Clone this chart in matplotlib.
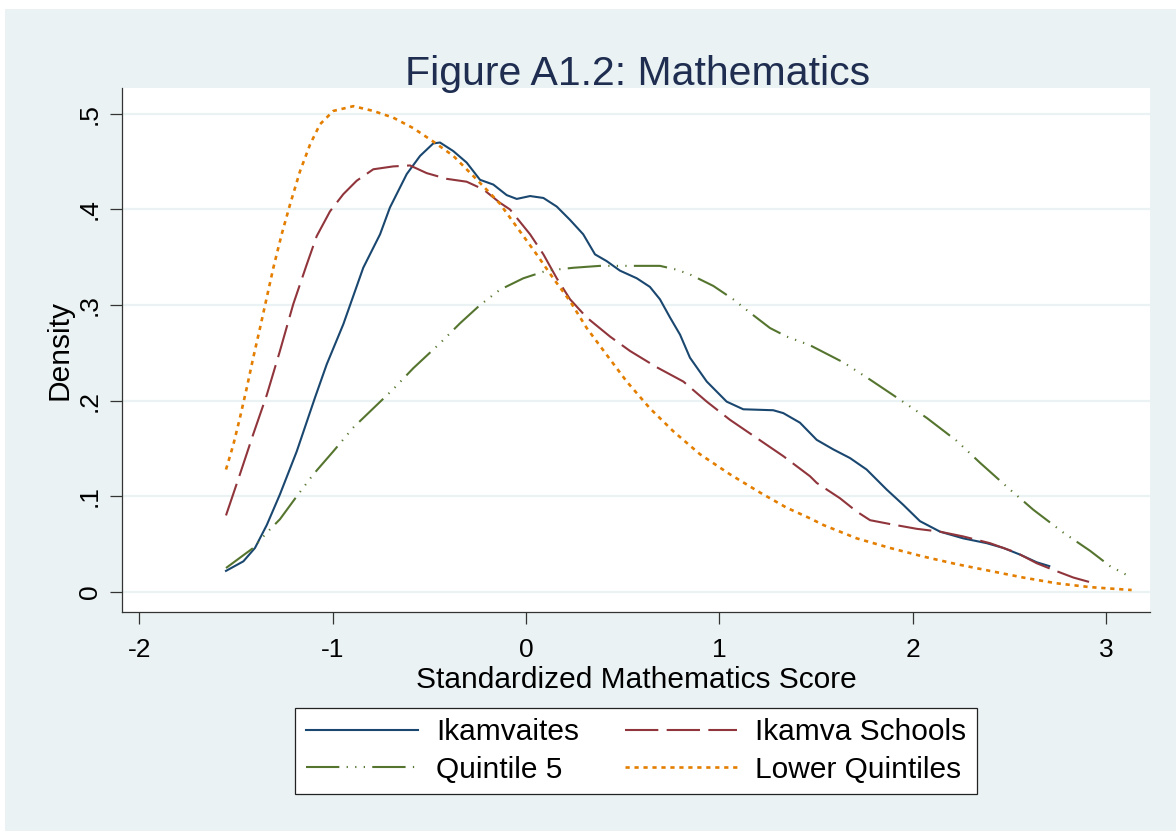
import numpy as np
import matplotlib
matplotlib.use("Agg")
import matplotlib.pyplot as plt
from matplotlib.patches import Rectangle

plt.rcParams['font.family'] = ['Liberation Sans', 'DejaVu Sans']
plt.rcParams['axes.unicode_minus'] = False

# Ikamvaites (solid navy)
ika_x = [-1.552, -1.462, -1.402, -1.341, -1.273, -1.186, -1.092, -1.031, -0.945, -0.842,
         -0.755, -0.704, -0.617, -0.548, -0.480, -0.445, -0.376, -0.307, -0.238, -0.169,
         -0.100, -0.048, 0.021, 0.090, 0.159, 0.228, 0.296, 0.357, 0.417, 0.486,
         0.573, 0.641, 0.693, 0.745, 0.797, 0.848, 0.935, 1.038, 1.124, 1.279,
         1.331, 1.417, 1.504, 1.590, 1.676, 1.762, 1.866, 1.952, 2.038, 2.142,
         2.262, 2.383, 2.469, 2.556, 2.642, 2.707]
ika_y = [0.022, 0.032, 0.046, 0.070, 0.102, 0.147, 0.203, 0.238, 0.280, 0.339,
         0.374, 0.402, 0.437, 0.456, 0.469, 0.470, 0.461, 0.449, 0.431, 0.426,
         0.415, 0.411, 0.414, 0.412, 0.403, 0.389, 0.374, 0.353, 0.346, 0.336,
         0.328, 0.319, 0.306, 0.287, 0.269, 0.245, 0.220, 0.199, 0.191, 0.190,
         0.187, 0.177, 0.159, 0.149, 0.140, 0.128, 0.107, 0.091, 0.074, 0.063,
         0.056, 0.051, 0.046, 0.039, 0.031, 0.027]

# Ikamva Schools (long dash maroon)
sch_x = [-1.552, -1.480, -1.411, -1.341, -1.273, -1.204, -1.135, -1.083, -1.014, -0.945,
         -0.876, -0.790, -0.687, -0.600, -0.514, -0.410, -0.307, -0.221, -0.135, -0.083,
         0.021, 0.090, 0.159, 0.228, 0.314, 0.435, 0.538, 0.676, 0.814, 0.935,
         1.055, 1.193, 1.331, 1.469, 1.504, 1.624, 1.711, 1.780, 1.883, 2.021,
         2.142, 2.262, 2.400, 2.538, 2.642, 2.728, 2.832, 2.939]
sch_y = [0.080, 0.123, 0.165, 0.206, 0.252, 0.301, 0.342, 0.372, 0.398, 0.416,
         0.430, 0.442, 0.445, 0.446, 0.438, 0.432, 0.429, 0.421, 0.407, 0.400,
         0.374, 0.353, 0.328, 0.306, 0.287, 0.267, 0.252, 0.235, 0.220, 0.199,
         0.180, 0.161, 0.142, 0.121, 0.114, 0.098, 0.084, 0.075, 0.071, 0.066,
         0.063, 0.058, 0.051, 0.041, 0.030, 0.023, 0.015, 0.009]

# Quintile 5 (dash-dot-dot green)
q5_x = [-1.552, -1.411, -1.341, -1.273, -1.186, -1.100, -0.997, -0.893, -0.790, -0.687,
        -0.583, -0.445, -0.341, -0.238, -0.135, -0.014, 0.107, 0.245, 0.383, 0.521,
        0.693, 0.780, 0.848, 0.969, 1.072, 1.159, 1.262, 1.349, 1.469, 1.642,
        1.780, 1.935, 2.073, 2.228, 2.349, 2.504, 2.624, 2.780, 2.918, 3.021, 3.133]
q5_y = [0.025, 0.046, 0.062, 0.076, 0.100, 0.123, 0.147, 0.172, 0.192, 0.212,
        0.234, 0.260, 0.281, 0.300, 0.316, 0.328, 0.336, 0.339, 0.341, 0.341,
        0.341, 0.337, 0.332, 0.320, 0.306, 0.292, 0.276, 0.267, 0.258, 0.240,
        0.222, 0.201, 0.182, 0.158, 0.135, 0.107, 0.086, 0.062, 0.043, 0.027, 0.015]

# Lower Quintiles (short dots orange)
low_x = [-1.552, -1.514, -1.480, -1.445, -1.411, -1.376, -1.341, -1.307, -1.264, -1.221,
         -1.169, -1.117, -1.066, -0.997, -0.893, -0.790, -0.687, -0.583, -0.480, -0.376,
         -0.273, -0.186, -0.135, -0.031, 0.055, 0.141, 0.228, 0.314, 0.417, 0.521,
         0.641, 0.762, 0.900, 1.055, 1.210, 1.349, 1.469, 1.538, 1.711, 1.883,
         2.055, 2.228, 2.400, 2.573, 2.745, 2.918, 3.133]
low_y = [0.128, 0.154, 0.182, 0.213, 0.245, 0.276, 0.308, 0.339, 0.374, 0.405,
         0.440, 0.468, 0.489, 0.503, 0.508, 0.503, 0.496, 0.485, 0.471, 0.456,
         0.435, 0.417, 0.406, 0.377, 0.353, 0.328, 0.304, 0.276, 0.248, 0.220,
         0.192, 0.168, 0.144, 0.123, 0.104, 0.088, 0.077, 0.070, 0.056, 0.046,
         0.037, 0.029, 0.022, 0.015, 0.009, 0.005, 0.002]

labels = ["Ikamvaites", "Ikamva Schools", "Quintile 5", "Lower Quintiles"]
x_ticks = [-2, -1, 0, 1, 2, 3]
y_ticks = [0, 0.1, 0.2, 0.3, 0.4, 0.5]
y_ticklabels = ["0", ".1", ".2", ".3", ".4", ".5"]

W, H = 1176, 831
bg = "#EAF2F3"
fig = plt.figure(figsize=(W / 100, H / 100), dpi=100, facecolor="white")
fig.patches.append(Rectangle((5 / W, 0), 1, 1 - 9 / H, transform=fig.transFigure,
                             facecolor=bg, edgecolor="none", zorder=-10))

ax = fig.add_axes([122 / W, 1 - 612 / H, 1028 / W, 524 / H])
ax.set_facecolor("white")

lw = 1.5
l1, = ax.plot(ika_x, ika_y, color="#1A476F", lw=lw)
l2, = ax.plot(sch_x, sch_y, color="#90353B", lw=lw, dashes=(16, 4))
l3, = ax.plot(q5_x, q5_y, color="#55752F", lw=lw,
              dashes=(16, 3.5, 0.6, 3.5, 0.6, 3.5, 0.6, 3.5))
l4, = ax.plot(low_x, low_y, color="#E37E00", lw=1.9, dashes=(1.6, 1.8))

ax.set_xlim(-2.09, 3.228)
ax.set_ylim(-0.021, 0.527)
ax.set_xticks(x_ticks)
ax.set_xticklabels([str(v) for v in x_ticks])
ax.set_yticks(y_ticks)
ax.set_yticklabels(y_ticklabels, rotation=90, va="center")
ax.yaxis.grid(True, color=bg, lw=1.6)
ax.set_axisbelow(True)

for s in ["top", "right"]:
    ax.spines[s].set_visible(False)
for s in ["left", "bottom"]:
    ax.spines[s].set_color("#333333")
    ax.spines[s].set_linewidth(0.9)
ax.tick_params(axis="both", length=8.5, width=0.9, color="#333333", labelsize=19)
ax.tick_params(axis="x", pad=10)
ax.tick_params(axis="y", pad=6)

fig.text(636 / W, 1 - 688 / H, "Standardized Mathematics Score", fontsize=21.5,
         ha="center", va="baseline")
fig.text(60 / W, 1 - 350 / H, "Density", fontsize=21.5, rotation=90,
         ha="center", va="center")
fig.text(638 / W, 1 - 85 / H, "Figure A1.2: Mathematics", fontsize=29.5,
         color="#1E2D50", ha="center", va="baseline")

leg = fig.legend([l1, l3, l2, l4], [labels[0], labels[2], labels[1], labels[3]],
                 ncol=2, loc="center", bbox_to_anchor=(636 / W, 1 - 751 / H),
                 fontsize=21.5, frameon=True, fancybox=False, edgecolor="#222222",
                 facecolor="white", framealpha=1,
                 handlelength=3.75, handletextpad=0.6, columnspacing=1.55,
                 labelspacing=0.33, borderpad=0.35)
leg.get_frame().set_linewidth(0.9)

fig.savefig("out.png", dpi=100, facecolor=fig.get_facecolor())
